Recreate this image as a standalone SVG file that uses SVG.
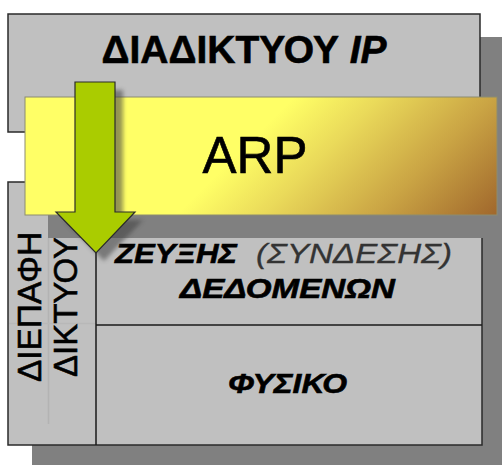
<svg xmlns="http://www.w3.org/2000/svg" width="502" height="465" viewBox="0 0 502 465">
  <defs>
    <linearGradient id="arpGrad" gradientUnits="userSpaceOnUse" x1="0" y1="0" x2="356" y2="356">
      <stop offset="0.55" stop-color="#FFFF66"/>
      <stop offset="0.67" stop-color="#EADA5A"/>
      <stop offset="0.83" stop-color="#CAA444"/>
      <stop offset="1" stop-color="#A0672C"/>
    </linearGradient>
    <filter id="soft" x="-20%" y="-20%" width="140%" height="140%">
      <feGaussianBlur stdDeviation="2"/>
    </filter>
  </defs>
  <style>
    .box { fill: #C0C0C0; stroke: #2a2a2a; stroke-width: 1.5; }
    .shadow { fill: #808080; }
    .t { font-family: "Liberation Sans", Arial, sans-serif; fill: #000; stroke: #000; stroke-width: 0.6; }
    .b { font-weight: bold; }
    .i { font-style: italic; }
    .g { fill: #333; stroke: #333; stroke-width: 0.3; }
  </style>

  <!-- shadows -->
  <rect class="shadow" x="32" y="37" width="474" height="119"/>
  <rect class="shadow" x="32" y="206" width="474" height="263"/>

  <g id="node-ip">
    <rect class="box" x="8" y="14" width="472" height="118"/>
    <text class="t b" x="244" y="63" font-size="38" text-anchor="middle" textLength="285" lengthAdjust="spacingAndGlyphs">ΔΙΑΔΙΚΤΥΟΥ <tspan class="i">IP</tspan></text>
  </g>

  <g id="node-lower">
    <rect class="box" x="8" y="182" width="474" height="263"/>
    <line x1="48.5" y1="238" x2="48.5" y2="424" stroke="#b3b3b3" stroke-width="1.5"/>
    <line x1="9" y1="323.5" x2="96" y2="323.5" stroke="#b8b8b8" stroke-width="1.5"/>
    <line x1="96" y1="182" x2="96" y2="445" stroke="#1a1a1a" stroke-width="1.5"/>
    <line x1="96" y1="325" x2="482" y2="325" stroke="#1a1a1a" stroke-width="1.5"/>
  </g>

  <g id="node-interface">
    <text class="t" transform="translate(41,307) rotate(-90)" x="0" y="0" font-size="34" text-anchor="middle" textLength="150" lengthAdjust="spacingAndGlyphs" stroke-width="0.9">ΔΙΕΠΑΦΗ</text>
    <text class="t" transform="translate(77,307) rotate(-90)" x="0" y="0" font-size="34" text-anchor="middle" textLength="140" lengthAdjust="spacingAndGlyphs" stroke-width="0.7">ΔΙΚΤΥΟΥ</text>
  </g>

  <g id="node-datalink">
    <text class="t b i" x="115" y="263" font-size="28" textLength="122" lengthAdjust="spacingAndGlyphs">ΖΕΥΞΗΣ</text>
    <text class="t i g" x="256" y="263" font-size="28" textLength="196" lengthAdjust="spacingAndGlyphs">(ΣΥΝΔΕΣΗΣ)</text>
    <text class="t b i" x="180" y="298" font-size="27" textLength="215" lengthAdjust="spacingAndGlyphs">ΔΕΔΟΜΕΝΩΝ</text>
  </g>

  <g id="node-physical">
    <text class="t b i" x="228" y="393" font-size="28" textLength="119" lengthAdjust="spacingAndGlyphs">ΦΥΣΙΚΟ</text>
  </g>

  <g id="node-arp">
    <rect class="shadow" x="48" y="120" width="472" height="118"/>
    <rect x="25" y="97" width="472" height="118" fill="url(#arpGrad)" stroke="#8c8c70" stroke-width="1"/>
    <text class="t" x="255" y="173" font-size="51" text-anchor="middle" stroke-width="1.1">ARP</text>
  </g>

  <g id="connectors">
    <polygon points="83,90 123,90 123,220 143,220 104,261 64,220 83,220" fill="#404040" opacity="0.55" filter="url(#soft)"/>
    <polygon points="75,82 115,82 115,212 135,212 96,253 56,212 75,212" fill="#AACC00" stroke="#2a2a2a" stroke-width="1.2" stroke-linejoin="miter"/>
  </g>
</svg>
